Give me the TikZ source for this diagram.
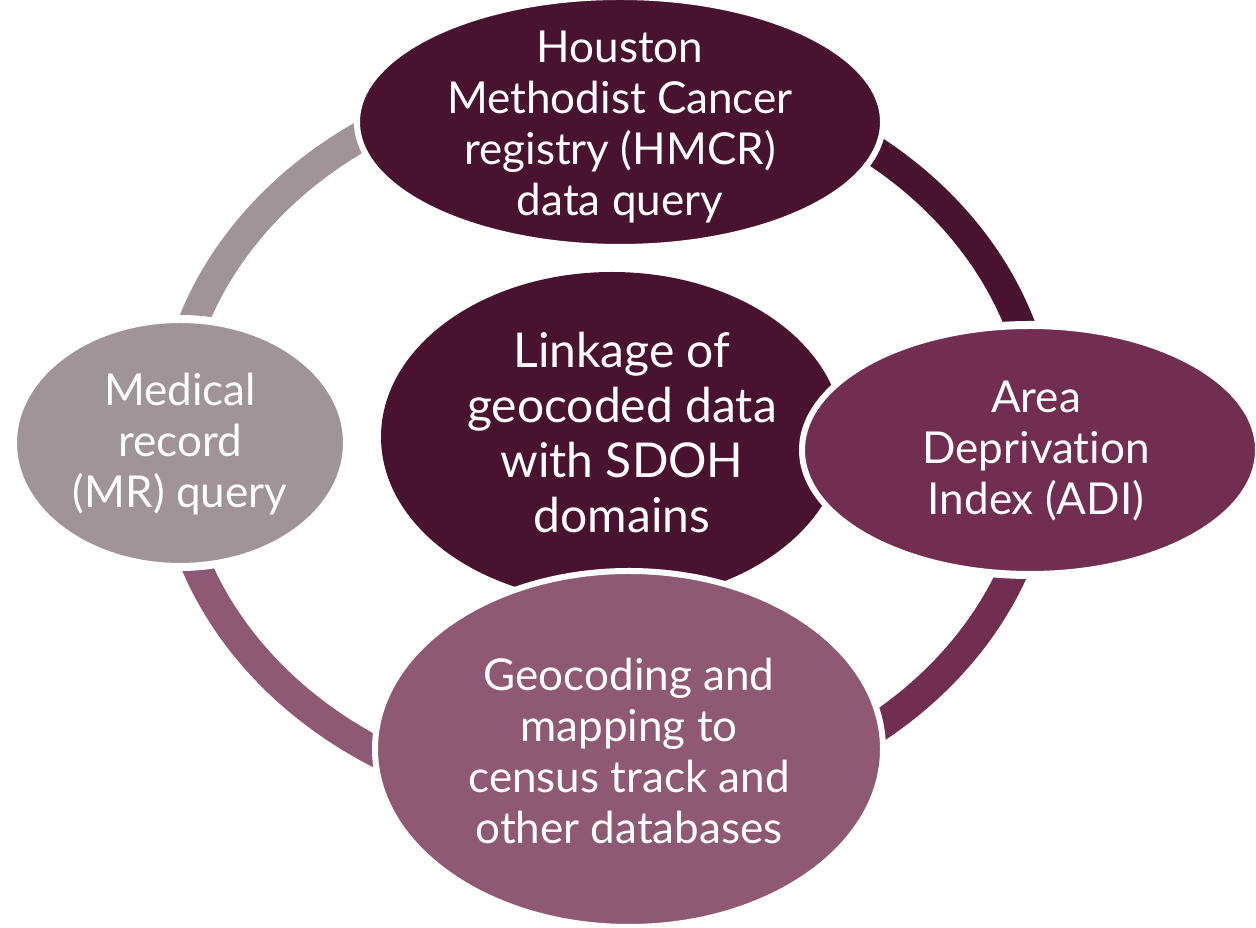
\documentclass[tikz,border=0pt]{standalone}
\usepackage{fontspec}
\setmainfont{Lato}[Ligatures={NoCommon}]
\definecolor{cdark}{HTML}{491330}
\definecolor{cmed}{HTML}{722E51}
\definecolor{crose}{HTML}{8F5973}
\definecolor{cgrey}{HTML}{A09498}
\tikzset{
  ringarc/.style={line width=30pt, line cap=butt},
  bubble/.style={line width=6pt, draw=white},
  halo/.style={fill=white},
  txt/.style={text=white, align=center, inner sep=0pt, font=\fontsize{44}{51}\selectfont},
  bigtxt/.style={text=white, align=center, inner sep=0pt, font=\fontsize{48}{55}\selectfont},
}
\begin{document}
\begin{tikzpicture}[x=1pt,y=1pt]
\useasboundingbox (0,0) rectangle (1256,928);
\coordinate (ringc) at (606,488);
% ring arcs
\draw[ringarc, cgrey] (ringc) ++(170:436 and 367) arc[start angle=170, end angle=115, x radius=436, y radius=367];
\draw[ringarc, cdark] (ringc) ++(65:436 and 367) arc[start angle=65, end angle=10, x radius=436, y radius=367];
\draw[ringarc, cmed] (ringc) ++(-10:436 and 367) arc[start angle=-10, end angle=-65, x radius=436, y radius=367];
\draw[ringarc, crose] (ringc) ++(-115:436 and 367) arc[start angle=-115, end angle=-170, x radius=436, y radius=367];
% gaps around side nodes
\path[halo] (180,485) ellipse [x radius=171, y radius=128];
\path[halo] (1030,478) ellipse [x radius=233, y radius=129];
% central node
\path[fill=cdark] (612,491) ellipse [x radius=231, y radius=165];
\node[bigtxt] (link) at (622,495) {Linkage of\\geocoded data\\with SDOH\\domains};
% top node
\path[bubble, fill=cdark] (620,806) ellipse [x radius=263, y radius=125];
\node[txt] (hmcr) at (620,801) {Houston\\Methodist Cancer\\registry (HMCR)\\data query};
% right node
\path[bubble, fill=cmed] (1030,478) ellipse [x radius=228, y radius=124];
\node[txt] (adi) at (1036,477) {Area\\Deprivation\\Index (ADI)};
% bottom node
\path[bubble, fill=crose] (629,179) ellipse [x radius=254, y radius=178];
\node[txt] (geo) at (629,177) {Geocoding and\\mapping to\\census track and\\other databases};
% left node
\path[bubble, fill=cgrey] (180,485) ellipse [x radius=166, y radius=123];
\node[txt] (mr) at (180,484) {Medical\\record\\(MR) query};
\end{tikzpicture}
\end{document}
